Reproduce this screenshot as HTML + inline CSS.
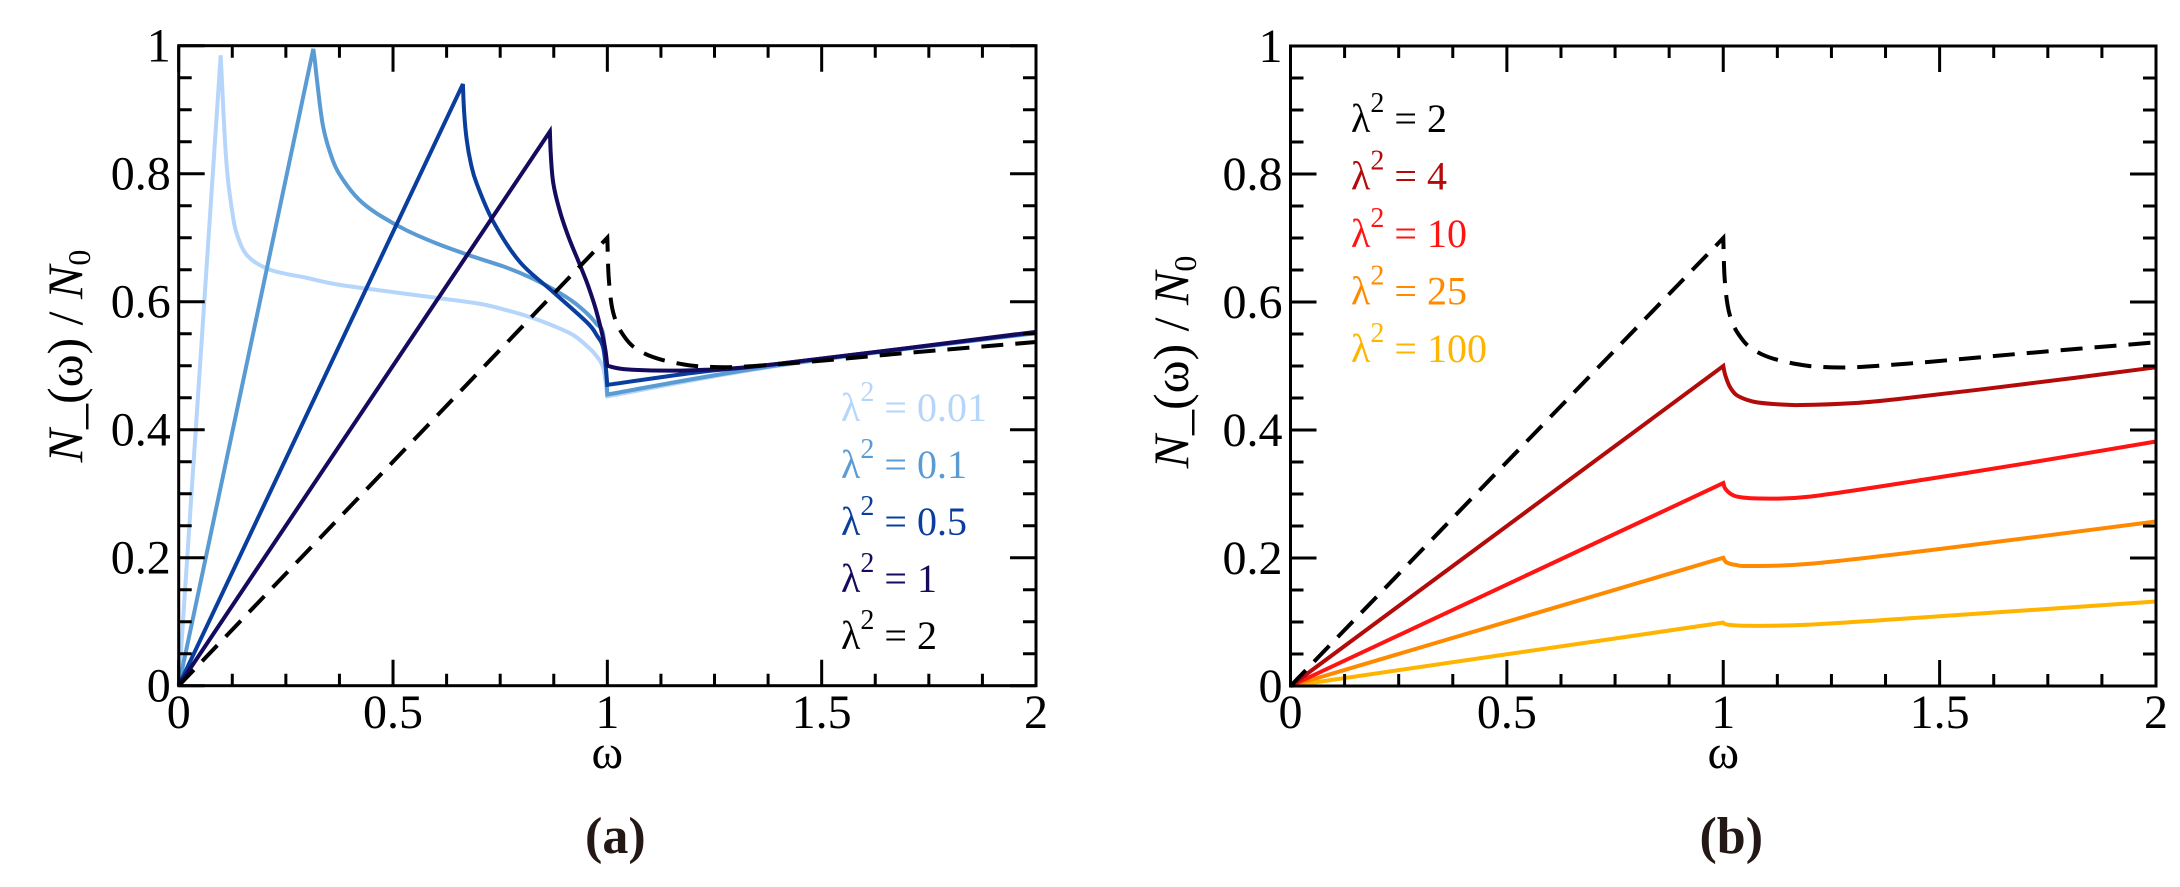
<!DOCTYPE html>
<html><head><meta charset="utf-8"><style>
html,body{margin:0;padding:0;background:#fff;}
svg{display:block;}
text{font-family:"Liberation Serif","Times New Roman",serif;}
</style></head>
<body>
<svg id="fig" width="2180" height="887" viewBox="0 0 2180 887" font-family="Liberation Serif, serif"></svg>
<script>
// ---- Panel (a) data ----
const aLabels = ["λ² = 0.01","λ² = 0.1","λ² = 0.5","λ² = 1","λ² = 2"];
const aColors = ["#b5d5fb","#5a9bd4","#0a3e9e","#140a5e","#000000"];
const a001x = [0,0.098,0.102,0.108,0.115,0.125,0.135,0.16,0.213,0.30,0.369,0.5,0.602,0.7,0.758,0.82,0.875,0.92,0.952,0.975,0.991,1.0,1.4,2.0];
const a001y = [0,0.985,0.93,0.85,0.79,0.74,0.707,0.672,0.65,0.637,0.627,0.615,0.606,0.597,0.588,0.576,0.562,0.548,0.531,0.515,0.495,0.452,0.50,0.551];
const a01x = [0,0.314,0.318,0.322,0.337,0.36,0.384,0.42,0.462,0.53,0.602,0.68,0.758,0.82,0.875,0.92,0.952,0.975,0.991,1.0,1.4,2.0];
const a01y = [0,0.995,0.975,0.95,0.873,0.82,0.79,0.76,0.738,0.712,0.691,0.672,0.655,0.638,0.619,0.600,0.582,0.565,0.546,0.455,0.501,0.551];
const a05x = [0,0.663,0.666,0.672,0.682,0.695,0.734,0.796,0.874,0.952,0.975,0.991,1.0,1.213,1.4,2.0];
const a05y = [0,0.94,0.895,0.852,0.815,0.785,0.725,0.662,0.615,0.568,0.548,0.526,0.47,0.49,0.503,0.552];
const a1x = [0,0.866,0.868,0.874,0.889,0.91,0.935,0.955,0.974,0.993,1.0,1.05,1.2,1.4,2.0];
const a1y = [0,0.866,0.83,0.785,0.742,0.70,0.659,0.625,0.586,0.534,0.50,0.494,0.493,0.503,0.553];
const a2x = [0,1.0,1.003,1.01,1.022,1.04,1.06,1.09,1.123,1.17,1.216,1.3,1.45,1.7,2.0];
const a2y = [0,0.70,0.64,0.595,0.566,0.545,0.53,0.518,0.51,0.503,0.499,0.498,0.505,0.52,0.537];
// ---- Panel (b) data ----
const bLabels = ["λ² = 2","λ² = 4","λ² = 10","λ² = 25","λ² = 100"];
const bColors = ["#000000","#b30a0a","#ff1414","#ff8a00","#ffb400"];
const b4x = [0,1.0,1.005,1.015,1.03,1.055,1.08,1.13,1.18,1.3,1.4,1.7,2.0];
const b4y = [0,0.50,0.485,0.468,0.455,0.447,0.443,0.44,0.439,0.442,0.448,0.472,0.498];
const b10x = [0,1.0,1.005,1.02,1.04,1.087,1.2,1.46,1.7,2.0];
const b10y = [0,0.317,0.308,0.299,0.295,0.293,0.296,0.322,0.348,0.382];
const b25x = [0,1.0,1.008,1.03,1.06,1.2,1.5,2.0];
const b25y = [0,0.2005,0.193,0.189,0.1875,0.191,0.214,0.257];
const b100x = [0,1.0,1.01,1.06,1.2,1.5,2.0];
const b100y = [0,0.099,0.096,0.094,0.096,0.109,0.132];
const xTicks = [0,0.5,1,1.5,2];
const xTickLabels = ["0","0.5","1","1.5","2"];
const yTicks = [0,0.2,0.4,0.6,0.8,1];
const yTickLabels = ["0","0.2","0.4","0.6","0.8","1"];

const NS="http://www.w3.org/2000/svg";
const svg=document.getElementById('fig');
function mk(tag,attrs,parent){const e=document.createElementNS(NS,tag);for(const k in attrs)e.setAttribute(k,attrs[k]);(parent||svg).appendChild(e);return e;}
const FF='Liberation Serif, Times New Roman, serif';

function smoothPath(P){
  let bi=[0,1];
  let k1=-1;for(let i=2;i<P.length;i++){if(P[i].isOne)k1=i;}
  if(k1>1)bi.push(k1);
  bi.push(P.length-1);
  bi=[...new Set(bi)].sort((a,b)=>a-b);
  let d='M'+P[0][0].toFixed(1)+' '+P[0][1].toFixed(1);
  for(let s=0;s<bi.length-1;s++){
    const a=bi[s],b=bi[s+1];
    for(let i=a;i<b;i++){
      const p0=P[Math.max(a,i-1)],p1=P[i],p2=P[i+1],p3=P[Math.min(b,i+2)];
      const c1=[p1[0]+(p2[0]-p0[0])/6,p1[1]+(p2[1]-p0[1])/6];
      const c2=[p2[0]-(p3[0]-p1[0])/6,p2[1]-(p3[1]-p1[1])/6];
      d+=`C${c1[0].toFixed(1)} ${c1[1].toFixed(1)} ${c2[0].toFixed(1)} ${c2[1].toFixed(1)} ${p2[0].toFixed(1)} ${p2[1].toFixed(1)}`;
    }
  }
  return d;
}

function panel(p){
  const g=mk('g',{});
  
  
  const X=v=>p.x0+(p.x1-p.x0)*v/2;
  const Y=v=>p.y0-(p.y0-p.y1)*v;
  p.series.forEach((s,i)=>{
    const P=s.x.map((xv,j)=>{const q=[X(xv),Y(s.y[j])];q.isOne=(xv===1);return q;});
    const path=mk('path',{d:smoothPath(P),fill:'none',stroke:s.color,'stroke-width':4,'stroke-linejoin':'miter','stroke-miterlimit':4,'stroke-dasharray':s.dash||'none'},g);
    
    
  });
  const fr=mk('rect',{x:p.x0,y:p.y1,width:p.x1-p.x0,height:p.y0-p.y1,fill:'none',stroke:'#000','stroke-width':3},g);
  
  
  let td='';
  for(let k=0;k<=16;k++){const v=k*0.125;const L=(k%4===0)?26:12;const xx=X(v);
    td+=`M${xx} ${p.y0}V${p.y0-L}M${xx} ${p.y1}V${p.y1+L}`;}
  for(let k=0;k<=20;k++){const v=k*0.05;const L=(k%4===0)?26:13;const yy=Y(v);
    td+=`M${p.x0} ${yy}H${p.x0+L}M${p.x1} ${yy}H${p.x1-L}`;}
  const tk=mk('path',{d:td,stroke:'#000','stroke-width':3,fill:'none'},g);
  
  
  xTicks.forEach((v,i)=>{const t=mk('text',{x:X(v),y:728,'font-size':48,'text-anchor':'middle','font-family':FF},g);t.textContent=xTickLabels[i];
    
    });
  yTicks.forEach((v,i)=>{const t=mk('text',{x:p.x0-8,y:Y(v)+16,'font-size':48,'text-anchor':'end','font-family':FF},g);t.textContent=yTickLabels[i];
    
    });
  const xt=mk('text',{x:X(1),y:768,'font-size':48,'text-anchor':'middle','font-family':FF},g);xt.textContent='ω';
  
  
  const yt=mk('text',{x:0,y:0,'font-size':50,'text-anchor':'middle','font-family':FF,transform:`translate(${p.ytx},${p.yty}) rotate(-90)`},g);
  yt.innerHTML='<tspan font-style="italic">N</tspan>_(ω) / <tspan font-style="italic">N</tspan><tspan font-size="32" dy="8">0</tspan>';
  
  
  const cap=mk('text',{x:X(1)+8,y:853,'font-size':52,'font-weight':'bold','text-anchor':'middle',fill:'#231815','font-family':FF},g);cap.textContent=p.caption;
  
  
  p.legend.forEach((l,i)=>{const t=mk('text',{x:p.lx,y:p.ly+i*p.ldy,'font-size':40,fill:l.color,'font-family':FF},g);
    t.innerHTML='λ<tspan font-size="28" dy="-20">2</tspan><tspan dy="20"> = '+l.val+'</tspan>';
    
    });
}

panel({name:'panel-a',x0:178.7,x1:1036,y0:685.7,y1:45.7,ytx:82,yty:356,caption:'(a)',
  lx:841,ly:421,ldy:57,
  legend:aLabels.map((s,i)=>({color:aColors[i],val:s.split('= ')[1]})),
  series:[
   {name:'line-lambda2-0.01',x:a001x,y:a001y,color:aColors[0]},
   {name:'line-lambda2-0.1',x:a01x,y:a01y,color:aColors[1]},
   {name:'line-lambda2-0.5',x:a05x,y:a05y,color:aColors[2]},
   {name:'line-lambda2-1',x:a1x,y:a1y,color:aColors[3]},
   {name:'line-lambda2-2-dashed',x:a2x,y:a2y,color:'#000',dash:'22 12'}]});
panel({name:'panel-b',x0:1290.5,x1:2156,y0:686,y1:46,ytx:1188,yty:362,caption:'(b)',
  lx:1351,ly:132,ldy:57.5,
  legend:bLabels.map((s,i)=>({color:bColors[i],val:s.split('= ')[1]})),
  series:[
   {name:'line-lambda2-100',x:b100x,y:b100y,color:bColors[4]},
   {name:'line-lambda2-25',x:b25x,y:b25y,color:bColors[3]},
   {name:'line-lambda2-10',x:b10x,y:b10y,color:bColors[2]},
   {name:'line-lambda2-4',x:b4x,y:b4y,color:bColors[1]},
   {name:'line-lambda2-2-dashed',x:a2x,y:a2y,color:'#000',dash:'22 12'}]});
</script>
</body></html>
